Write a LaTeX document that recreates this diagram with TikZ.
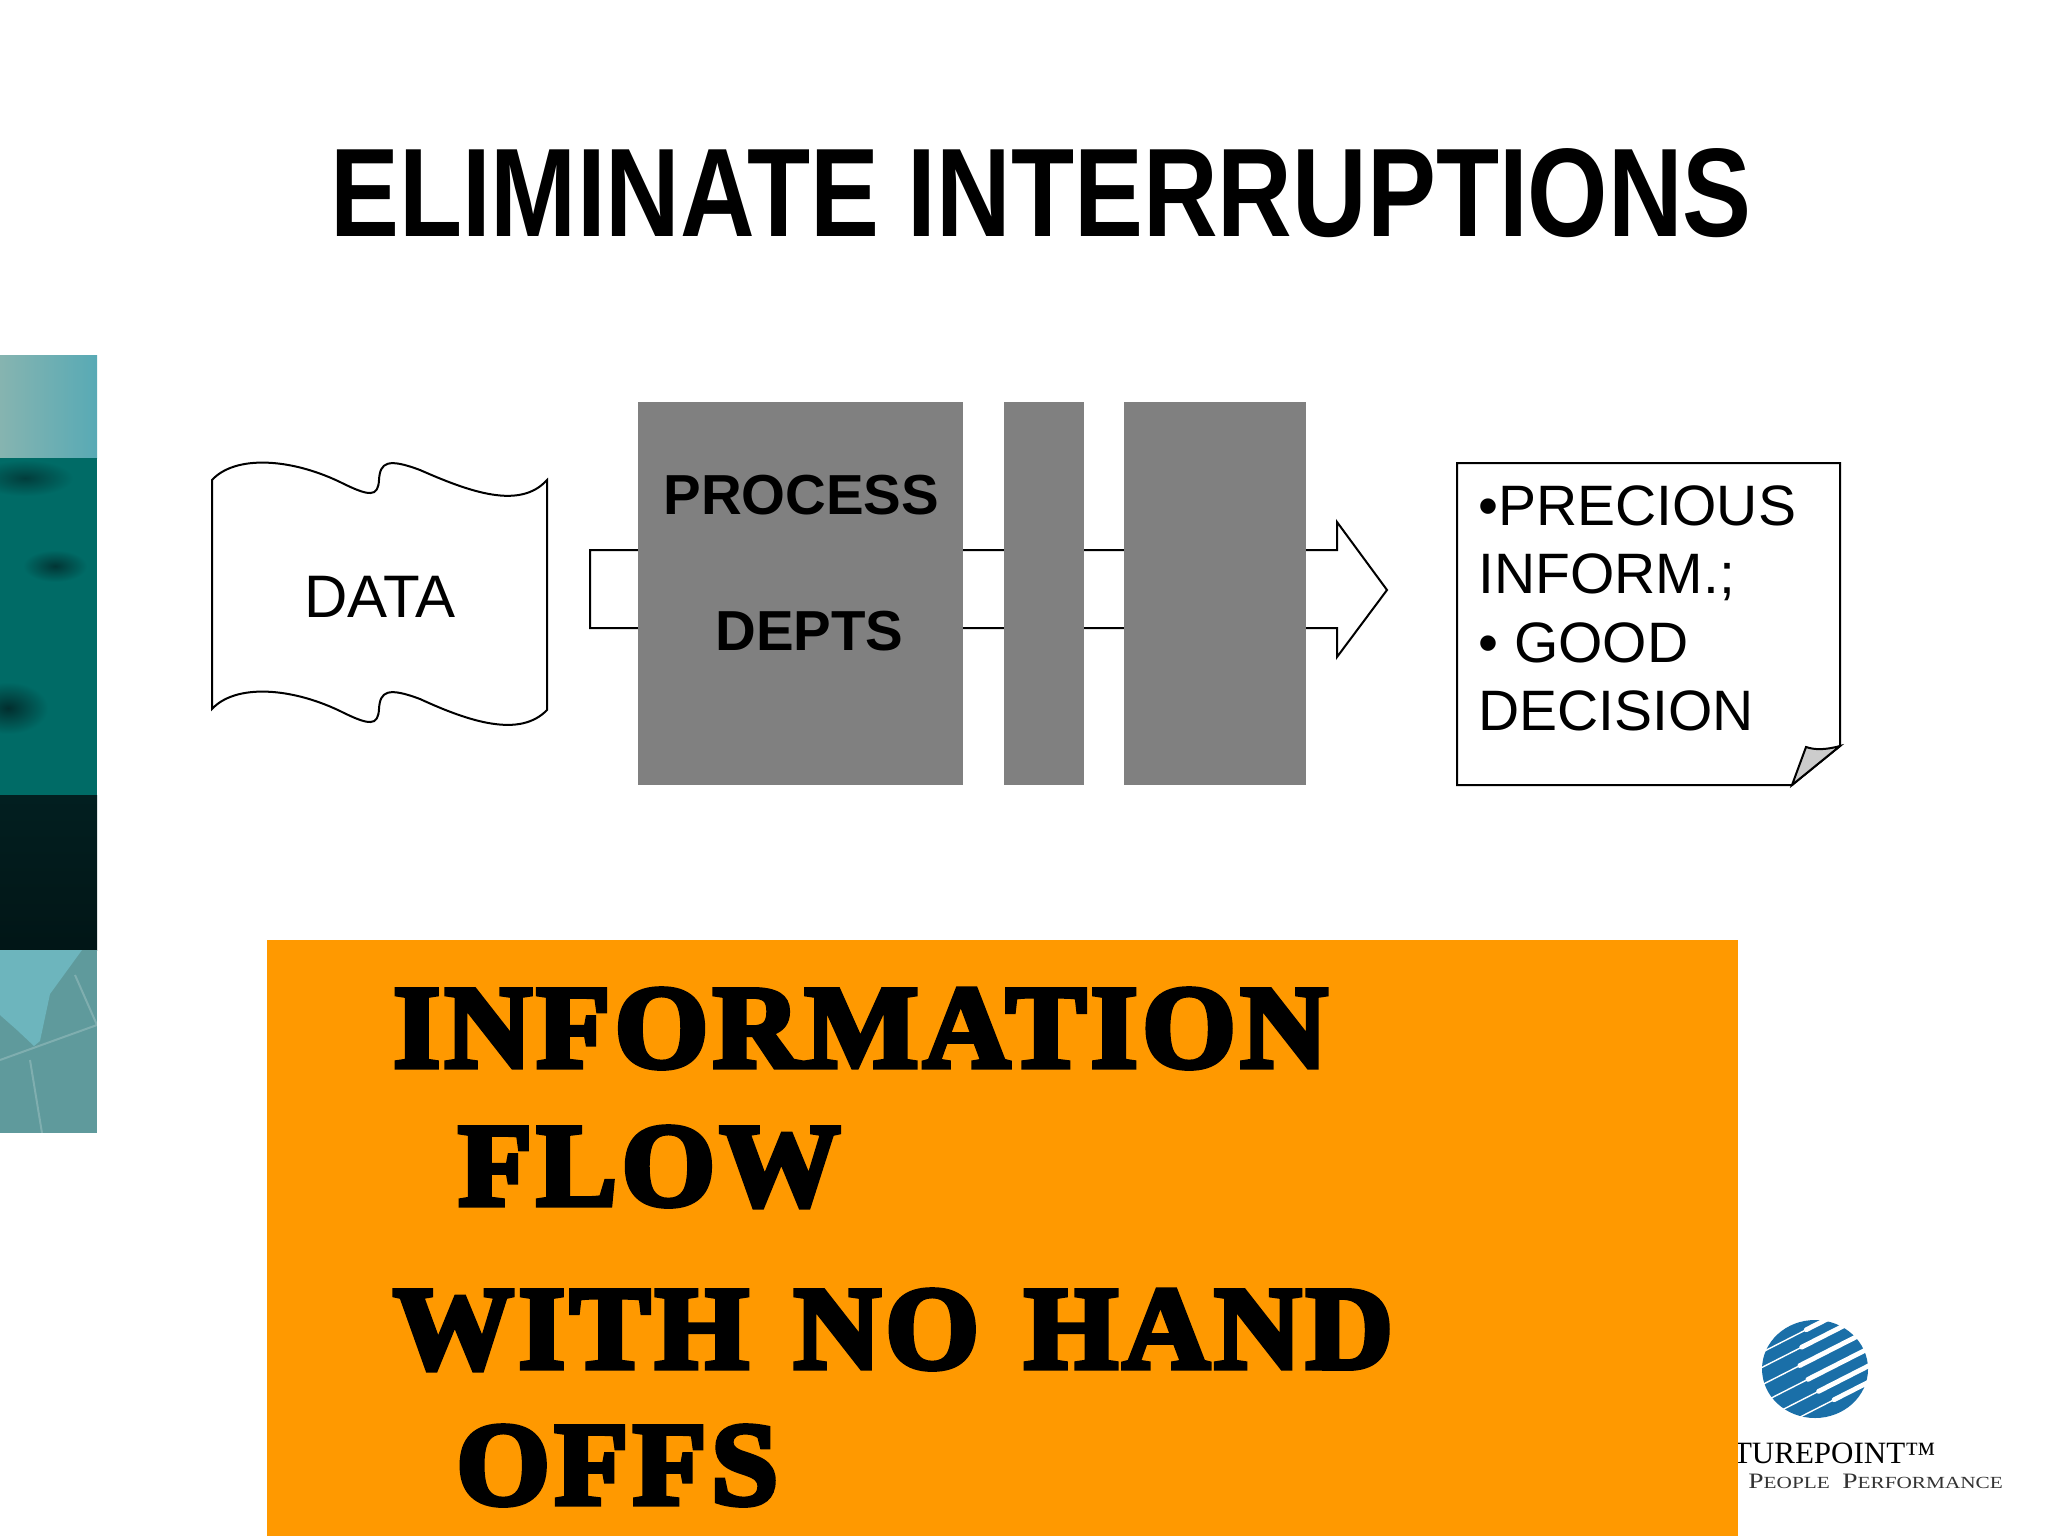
\documentclass[tikz,border=0pt]{standalone}
\usepackage{fontspec}
\setmainfont{Liberation Sans}
\newfontfamily\titlefont[FakeStretch=.82]{Liberation Sans Bold}
\newfontfamily\fatfont[FakeBold=4.6,FakeStretch=1.02,LetterSpace=4,WordSpace=1.3]{Liberation Serif Bold}
\newfontfamily\logofont{Liberation Serif}
\newfontfamily\logowide[FakeStretch=1.25]{Liberation Serif}
\definecolor{stripdark}{HTML}{006B66}
\definecolor{stripblack}{HTML}{021F20}
\definecolor{striplight}{HTML}{86B4B0}
\definecolor{stripsky}{HTML}{58AAB5}
\definecolor{stripsea}{HTML}{5F9A9C}
\definecolor{stripland}{HTML}{6DB5BD}
\definecolor{deptgrey}{HTML}{808080}
\definecolor{bannerorange}{HTML}{FF9900}
\definecolor{logoblue}{HTML}{1A6FA8}
\newcommand{\smallword}[2]{{\fontsize{11}{11}\selectfont #1}{\fontsize{8.5}{8.5}\selectfont #2}}
\tikzset{
    x=.5pt,y=-.5pt,
    outline/.style={draw=black,line width=1pt,fill=white},
    dept box/.style={fill=deptgrey,inner sep=0pt,minimum height=191.5pt},
    plain text/.style={anchor=base west,inner sep=0pt,font=\fontsize{28.5}{28.5}\selectfont},
    bold text/.style={anchor=base west,inner sep=0pt,font=\fontsize{28.2}{28.2}\selectfont\bfseries},
    fat text/.style={anchor=base west,inner sep=0pt,font=\fontsize{59}{59}\fatfont}
}
\begin{document}
\begin{tikzpicture}
    \useasboundingbox (0,0) rectangle (2048,1536);
    \fill[white] (0,0) rectangle (2048,1536);
    % picture strip on the left
    \shade[left color=striplight,right color=stripsky] (0,355) rectangle (97,458);
    \fill[stripdark] (0,458) rectangle (97,795);
    \shade[inner color=stripblack!60!stripdark,outer color=stripdark] (25,478) ellipse (48 and 18);
    \shade[inner color=stripblack!70!stripdark,outer color=stripdark] (55,566) ellipse (32 and 16);
    \shade[inner color=stripblack!80!stripdark,outer color=stripdark] (8,708) ellipse (40 and 26);
    \shade[top color=stripblack,bottom color=stripblack!70!black] (0,795) rectangle (97,950);
    \fill[stripsea] (0,950) rectangle (97,1133);
    \draw[white,opacity=.2,line width=1pt] (0,1060) -- (97,1025) (30,1060) -- (42,1133) (75,975) -- (97,1025);
    \fill[stripland] (0,950) -- (82,950) -- (50,994) -- (40,1041) -- (34,1046) -- (17,1030) -- (0,1015) -- cycle;
    % logo behind the banner
    \fill[logoblue] (1815,1369) ellipse (53 and 49);
    \begin{scope}[shift={(1815,1369)},rotate=27]
        \foreach \off/\from in {-39/10,-25.5/-2,-10/-12,6/-11,21.5/-7,36/3}{
            \draw[white,line width=.7pt] (-70,\off) -- (70,\off);
            \draw[white,line width=2.4pt,line cap=round] (\from,\off) -- (80,\off);
        }
    \end{scope}
    \node[anchor=base east,inner sep=0pt,font=\fontsize{15.5}{15.5}\logofont] (futurepoint) at (1936,1463) {FUTUREPOINT™};
    \node[anchor=base west,inner sep=0pt,font=\logowide,text=black!80] (people) at (1748,1488) {\smallword{P}{EOPLE}\ \ \smallword{P}{ERFORMANCE}};
    % title
    \node[anchor=base,inner sep=0pt,font=\fontsize{63}{63}\titlefont] (title) at (1041,236) {ELIMINATE INTERRUPTIONS};
    % data sheet
    \draw[outline] (212,480) .. controls (235,455) and (290,458) .. (340,482)
        .. controls (370,497) and (378,497) .. (379,480) .. controls (380,462) and (388,458) .. (420,470)
        .. controls (470,492) and (520,510) .. (547,480) -- (547,710)
        .. controls (520,738) and (470,722) .. (420,699) .. controls (388,687) and (380,691) .. (379,709)
        .. controls (378,726) and (370,726) .. (340,711) .. controls (290,687) and (235,684) .. (212,709) -- cycle;
    \node[plain text,anchor=base,font=\fontsize{30}{30}\selectfont] (data) at (380,617) {DATA};
    % big arrow goes behind the departments
    \draw[outline] (590,550) -- (1337,550) -- (1337,522) -- (1387,590) -- (1337,657) -- (1337,628) -- (590,628) -- cycle;
    \foreach \name/\x/\w in {process/800.5/162.5,middle/1044/40,last/1215/91}
        \node[dept box,minimum width=\w pt] (\name) at (\x,593.5) {};
    \node[bold text] (processlabel) at (663,514) {PROCESS};
    \node[bold text] (deptslabel) at (715,650) {DEPTS};
    % note with turned corner
    \draw[outline] (1457,463) -- (1840,463) -- (1840,746) -- (1792,785) -- (1457,785) -- cycle;
    \draw[outline,fill=black!20] (1840,746) .. controls (1825,750) and (1815,750) .. (1806,747) -- (1792,785) -- cycle;
    \foreach \name/\y/\txt in {one/525/•PRECIOUS,two/593/{INFORM.;},three/662/{•\ GOOD},four/730/DECISION}
        \node[plain text] (note\name) at (1478,\y) {\txt};
    % banner
    \fill[bannerorange] (267,940) rectangle (1738,1536);
    \foreach \name/\x/\y/\txt in {information/393/1067/INFORMATION,flow/458/1205/FLOW,hand/393/1368/WITH NO HAND,offs/456/1504/OFFS}
        \node[fat text] (\name) at (\x,\y) {\txt};
\end{tikzpicture}
\end{document}
